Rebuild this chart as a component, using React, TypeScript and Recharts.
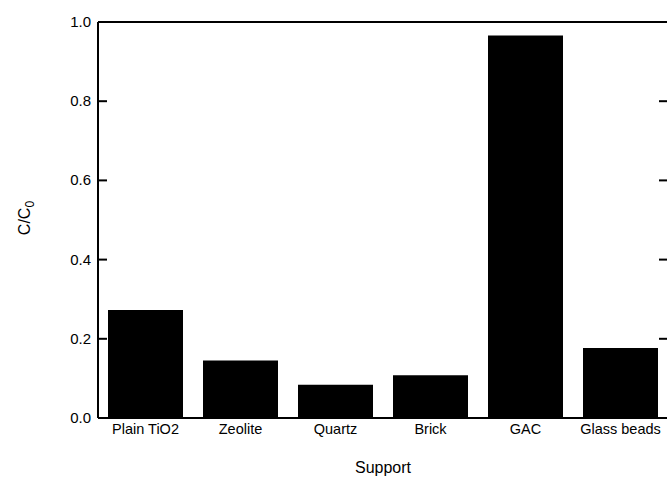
import React from 'react';
import { BarChart, Bar, XAxis, YAxis, ReferenceLine } from 'recharts';

const supports = ['Plain TiO2', 'Zeolite', 'Quartz', 'Brick', 'GAC', 'Glass beads'];
const ratios = [0.273, 0.145, 0.084, 0.108, 0.966, 0.177];
const yTicks = [0, 0.2, 0.4, 0.6, 0.8, 1.0];

const data = supports.map((name, i) => ({ name, value: ratios[i] }));

const FONT = '"Liberation Sans", Arial, sans-serif';

const renderLeftTick = (props: any) => {
  const { x, y, payload } = props;
  return (
    <text
      key={`lt-${payload.value}`}
      x={x - 7}
      y={y + 5}
      textAnchor="end"
      fontSize={15}
      fill="#000"
      fontFamily={FONT}
    >
      {Number(payload.value).toFixed(1)}
    </text>
  );
};

// short inward tick marks at both frame sides
const InwardTicks = (props: any) => {
  const { x1, x2, y1 } = props;
  return (
    <g>
      <path d={`M${x1},${y1}h9`} stroke="#000" strokeWidth={2} fill="none" />
      <path d={`M${x2 - 9},${y1}h9`} stroke="#000" strokeWidth={2} fill="none" />
    </g>
  );
};

const YTitle = () => (
  <text
    x={30}
    y={218}
    transform="rotate(-90 30 218)"
    textAnchor="middle"
    fontSize={16}
    fill="#000"
    fontFamily={FONT}
  >
    C/C
    <tspan dy={4} fontSize={12}>0</tspan>
  </text>
);

export default function App() {
  return (
    <div style={{ position: 'absolute', left: 0, top: 0, width: 667, height: 480, overflow: 'hidden', background: '#fff' }}>
      <BarChart
        width={670}
        height={480}
        data={data}
        margin={{ top: 22, right: 2, bottom: 32, left: 0 }}
        barCategoryGap={10}
      >
        <XAxis
          dataKey="name"
          tickLine={false}
          tickSize={6}
          tickMargin={0}
          axisLine={{ stroke: '#000', strokeWidth: 2 }}
          tick={{ fill: '#000', fontSize: 14.5, fontFamily: FONT }}
          interval={0}
          height={30}
        />
        <YAxis
          domain={[0, 1]}
          ticks={yTicks}
          width={98}
          tickSize={0}
          tickMargin={0}
          tickLine={false}
          axisLine={{ stroke: '#000', strokeWidth: 2 }}
          tick={renderLeftTick}
          label={{ content: () => <YTitle /> }}
        />
        {yTicks.slice(1, -1).map((v) => (
          <ReferenceLine key={v} y={v} stroke="#000" shape={(p: any) => <InwardTicks {...p} />} />
        ))}
        <ReferenceLine y={1} stroke="#000" strokeWidth={2} />
        <Bar dataKey="value" fill="#000" isAnimationActive={false} />
      </BarChart>
      <div
        style={{
          position: 'absolute',
          left: 98,
          width: 570,
          top: 459,
          textAlign: 'center',
          fontFamily: FONT,
          fontSize: 16,
          color: '#000',
        }}
      >
        Support
      </div>
    </div>
  );
}
